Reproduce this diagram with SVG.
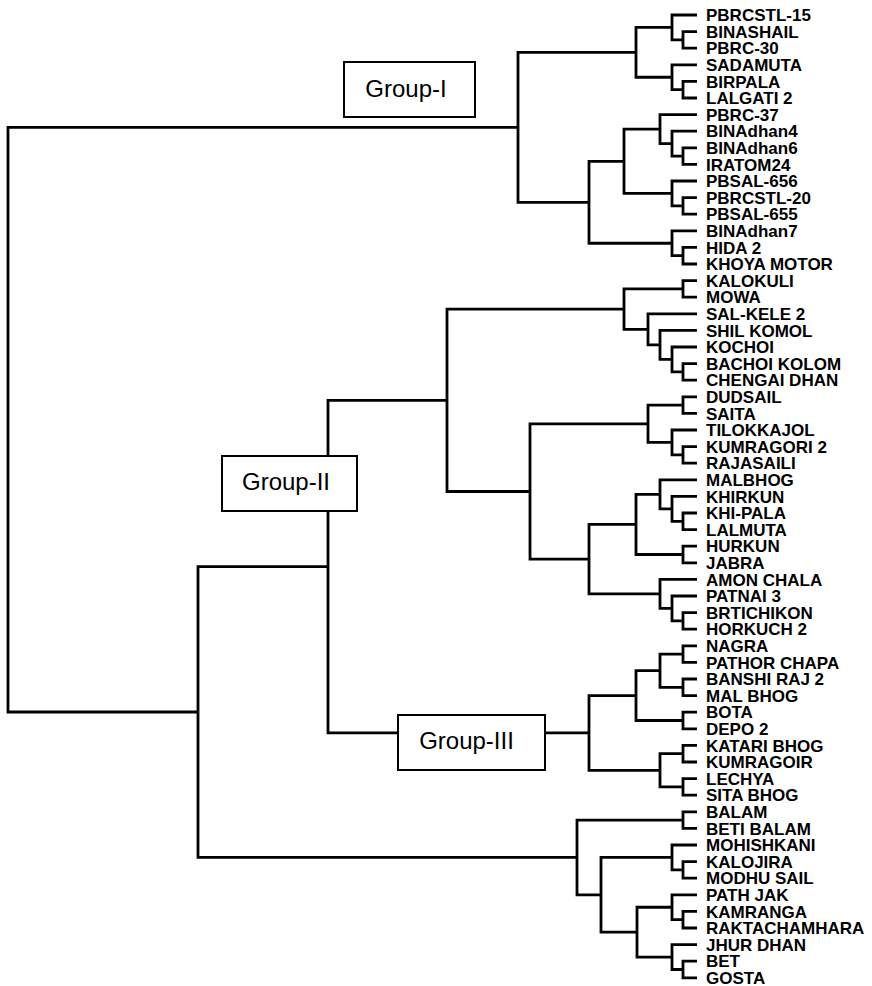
<svg xmlns="http://www.w3.org/2000/svg" width="872" height="986" viewBox="0 0 872 986">
<style>
.ln{fill:none;stroke:#000;stroke-width:2.8;stroke-linejoin:miter}
.lf{font-family:"Liberation Sans",Arial,sans-serif;font-weight:bold;font-size:17px;fill:#000}
.box{fill:#fff;stroke:#000;stroke-width:2}
.gt{font-family:"Liberation Sans",Arial,sans-serif;font-size:24px;fill:#000;text-anchor:middle}
</style>
<rect width="872" height="986" fill="#fff"/>
<g id="connectors" class="ln">
<path d="M697 31.6H683V48.2H697"/>
<path d="M697 15H672V39.9H683"/>
<path d="M697 81.4H683V98H697"/>
<path d="M697 64.8H672V89.7H683"/>
<path d="M672 27.45H636V77.25H672"/>
<path d="M697 147.8H683V164.4H697"/>
<path d="M697 131.2H672V156.1H683"/>
<path d="M697 114.6H660V143.65H672"/>
<path d="M697 197.6H683V214.2H697"/>
<path d="M697 181H672V205.9H683"/>
<path d="M660 129.1H624V193.45H672"/>
<path d="M697 247.4H683V264H697"/>
<path d="M697 230.8H672V255.7H683"/>
<path d="M624 161.3H589V243.25H672"/>
<path d="M636 52.35H518V202.3H589"/>
<path d="M518 127.3H8V712H198"/>
<path d="M697 280.6H683V297.2H697"/>
<path d="M697 363.6H683V380.2H697"/>
<path d="M697 347H672V371.9H683"/>
<path d="M697 330.4H660V359.45H672"/>
<path d="M697 313.8H648V344.9H660"/>
<path d="M683 288.9H624V329.35H648"/>
<path d="M697 396.8H683V413.4H697"/>
<path d="M697 446.6H683V463.2H697"/>
<path d="M697 430H672V454.9H683"/>
<path d="M683 405.1H648V442.45H672"/>
<path d="M697 513H683V529.6H697"/>
<path d="M697 496.4H672V521.3H683"/>
<path d="M697 479.8H660V508.85H672"/>
<path d="M697 546.2H683V562.8H697"/>
<path d="M660 494.3H636V554.5H683"/>
<path d="M697 612.6H683V629.2H697"/>
<path d="M697 596H672V620.9H683"/>
<path d="M697 579.4H660V608.45H672"/>
<path d="M636 524.4H589V593.9H660"/>
<path d="M648 423.8H530V559.15H589"/>
<path d="M624 309.1H447V491.5H530"/>
<path d="M697 645.8H683V662.4H697"/>
<path d="M697 679H683V695.6H697"/>
<path d="M683 654.1H660V687.3H683"/>
<path d="M697 712.2H683V728.8H697"/>
<path d="M660 670.7H636V720.5H683"/>
<path d="M697 745.4H683V762H697"/>
<path d="M697 778.6H683V795.2H697"/>
<path d="M683 753.7H660V786.9H683"/>
<path d="M636 695.6H589V770.3H660"/>
<path d="M447 400.3H328V732.95H589"/>
<path d="M697 811.8H683V828.4H697"/>
<path d="M697 861.6H683V878.2H697"/>
<path d="M697 845H672V869.9H683"/>
<path d="M697 911.4H683V928H697"/>
<path d="M697 894.8H672V919.7H683"/>
<path d="M697 961.2H683V977.8H697"/>
<path d="M697 944.6H672V969.5H683"/>
<path d="M672 907.25H637V957.05H672"/>
<path d="M672 857.45H601V932.15H637"/>
<path d="M683 820.1H577V894.8H601"/>
<path d="M328 566.6H198V857.45H577"/>
</g>
<g id="group-I"><rect class="box" x="344" y="62" width="131" height="55"/><text class="gt" x="406" y="97">Group-I</text></g>
<g id="group-II"><rect class="box" x="222" y="456" width="135" height="55"/><text class="gt" x="286" y="490">Group-II</text></g>
<g id="group-III"><rect class="box" x="398" y="715" width="147" height="55"/><text class="gt" x="466.5" y="749">Group-III</text></g>
<g id="leaves" class="lf" transform="translate(706,6.3)">
<text id="n0" x="0" y="15">PBRCSTL-15</text>
<text id="n1" x="0" y="31.6">BINASHAIL</text>
<text id="n2" x="0" y="48.2">PBRC-30</text>
<text id="n3" x="0" y="64.8">SADAMUTA</text>
<text id="n4" x="0" y="81.4">BIRPALA</text>
<text id="n5" x="0" y="98">LALGATI 2</text>
<text id="n6" x="0" y="114.6">PBRC-37</text>
<text id="n7" x="0" y="131.2">BINAdhan4</text>
<text id="n8" x="0" y="147.8">BINAdhan6</text>
<text id="n9" x="0" y="164.4">IRATOM24</text>
<text id="n10" x="0" y="181">PBSAL-656</text>
<text id="n11" x="0" y="197.6">PBRCSTL-20</text>
<text id="n12" x="0" y="214.2">PBSAL-655</text>
<text id="n13" x="0" y="230.8">BINAdhan7</text>
<text id="n14" x="0" y="247.4">HIDA 2</text>
<text id="n15" x="0" y="264">KHOYA MOTOR</text>
<text id="n16" x="0" y="280.6">KALOKULI</text>
<text id="n17" x="0" y="297.2">MOWA</text>
<text id="n18" x="0" y="313.8">SAL-KELE 2</text>
<text id="n19" x="0" y="330.4">SHIL KOMOL</text>
<text id="n20" x="0" y="347">KOCHOI</text>
<text id="n21" x="0" y="363.6">BACHOI KOLOM</text>
<text id="n22" x="0" y="380.2">CHENGAI DHAN</text>
<text id="n23" x="0" y="396.8">DUDSAIL</text>
<text id="n24" x="0" y="413.4">SAITA</text>
<text id="n25" x="0" y="430">TILOKKAJOL</text>
<text id="n26" x="0" y="446.6">KUMRAGORI 2</text>
<text id="n27" x="0" y="463.2">RAJASAILI</text>
<text id="n28" x="0" y="479.8">MALBHOG</text>
<text id="n29" x="0" y="496.4">KHIRKUN</text>
<text id="n30" x="0" y="513">KHI-PALA</text>
<text id="n31" x="0" y="529.6">LALMUTA</text>
<text id="n32" x="0" y="546.2">HURKUN</text>
<text id="n33" x="0" y="562.8">JABRA</text>
<text id="n34" x="0" y="579.4">AMON CHALA</text>
<text id="n35" x="0" y="596">PATNAI 3</text>
<text id="n36" x="0" y="612.6">BRTICHIKON</text>
<text id="n37" x="0" y="629.2">HORKUCH 2</text>
<text id="n38" x="0" y="645.8">NAGRA</text>
<text id="n39" x="0" y="662.4">PATHOR CHAPA</text>
<text id="n40" x="0" y="679">BANSHI RAJ 2</text>
<text id="n41" x="0" y="695.6">MAL BHOG</text>
<text id="n42" x="0" y="712.2">BOTA</text>
<text id="n43" x="0" y="728.8">DEPO 2</text>
<text id="n44" x="0" y="745.4">KATARI BHOG</text>
<text id="n45" x="0" y="762">KUMRAGOIR</text>
<text id="n46" x="0" y="778.6">LECHYA</text>
<text id="n47" x="0" y="795.2">SITA BHOG</text>
<text id="n48" x="0" y="811.8">BALAM</text>
<text id="n49" x="0" y="828.4">BETI BALAM</text>
<text id="n50" x="0" y="845">MOHISHKANI</text>
<text id="n51" x="0" y="861.6">KALOJIRA</text>
<text id="n52" x="0" y="878.2">MODHU SAIL</text>
<text id="n53" x="0" y="894.8">PATH JAK</text>
<text id="n54" x="0" y="911.4">KAMRANGA</text>
<text id="n55" x="0" y="928">RAKTACHAMHARA</text>
<text id="n56" x="0" y="944.6">JHUR DHAN</text>
<text id="n57" x="0" y="961.2">BET</text>
<text id="n58" x="0" y="977.8">GOSTA</text>
</g>
</svg>
